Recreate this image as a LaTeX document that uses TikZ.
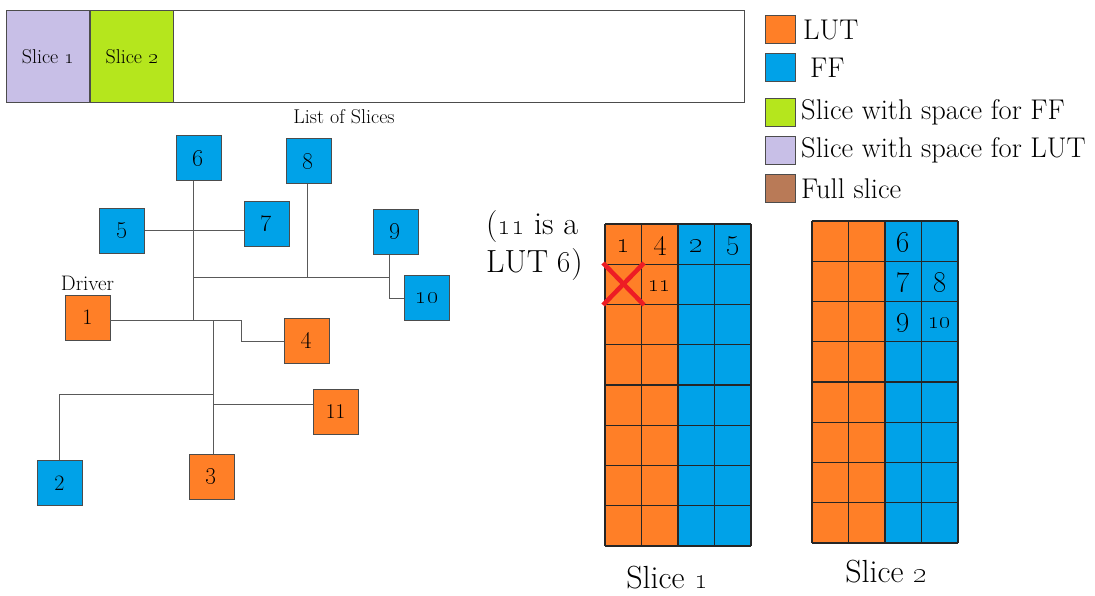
\documentclass[tikz,border=0pt]{standalone}
\usetikzlibrary{positioning}

\definecolor{lut}{RGB}{255,127,39}
\definecolor{ff}{RGB}{0,162,232}
\definecolor{fffree}{RGB}{181,230,29}
\definecolor{lutfree}{RGB}{200,191,231}
\definecolor{fullslice}{RGB}{185,122,87}
\definecolor{cross}{RGB}{237,28,36}

\newcommand{\osn}[1]{\oldstylenums{#1}}

\tikzset{
  blk/.style={draw=black!70, line width=0.8pt, minimum size=45pt, inner sep=0pt,
              font=\fontsize{27}{28}\selectfont},
  lutblk/.style={blk, fill=lut},
  ffblk/.style={blk, fill=ff},
  wire/.style={draw=black!65, line width=1pt},
  key/.style={draw=black!70, line width=1pt, minimum width=30pt, minimum height=28pt, inner sep=0pt},
  keytext/.style={anchor=west, inner sep=0pt, font=\fontsize{28.5}{30}\selectfont},
  gridline/.style={draw=black!85, line width=1.2pt},
  bel/.style={inner sep=0pt, font=\fontsize{28}{30}\selectfont},
}

\begin{document}
\begin{tikzpicture}[x=1pt, y=-1pt]
\useasboundingbox (0,0) rectangle (1095,596);

% list of slices
\node[draw=black!70, line width=0.8pt, fill=lutfree, minimum width=83pt, minimum height=92pt,
      anchor=north west, inner sep=0pt, font=\fontsize{20}{22}\selectfont] (s1) at (6,10) {Slice \osn{1}};
\node[draw=black!70, line width=0.8pt, fill=fffree, minimum width=83pt, minimum height=92pt,
      right=0pt of s1, inner sep=0pt, font=\fontsize{20}{22}\selectfont] (s2) {Slice \osn{2}};
\draw[draw=black!70, line width=0.8pt] (s2.north east) rectangle (744,102);
\node[font=\fontsize{20}{22}\selectfont] (lst) at (344,117) {List of Slices};

% legend
\node[key, fill=lut, anchor=north west] (k1) at (765,15) {};
\node[key, fill=ff, below=9pt of k1] (k2) {};
\node[key, fill=fffree, below=16pt of k2] (k3) {};
\node[key, fill=lutfree, below=9pt of k3] (k4) {};
\node[key, fill=fullslice, below=9pt of k4] (k5) {};
\node[keytext, right=7pt of k1] (t1) {LUT};
\node[keytext, right=14pt of k2] (t2) {FF};
\node[keytext, right=5pt of k3] (t3) {Slice with space for FF};
\node[keytext, right=5pt of k4] (t4) {Slice with space for LUT};
\node[keytext, right=5pt of k5] (t5) {Full slice};

% net
\node[lutblk, font=\fontsize{22}{24}\selectfont] (n1) at (87.5,317.5) {1};
\node[ffblk, font=\fontsize{22}{24}\selectfont] (n2) at (59.5,483) {2};
\node[lutblk] (n3) at (211.5,477) {\osn{3}};
\node[lutblk] (n4) at (306.5,341) {\osn{4}};
\node[ffblk] (n5) at (122,231) {\osn{5}};
\node[ffblk] (n6) at (198.5,158) {\osn{6}};
\node[ffblk] (n7) at (266.5,224) {\osn{7}};
\node[ffblk] (n8) at (308.5,161) {\osn{8}};
\node[ffblk] (n9) at (395.5,232) {\osn{9}};
\node[ffblk, font=\fontsize{24}{26}\selectfont] (n10) at (427,298) {\osn{10}};
\node[lutblk, font=\fontsize{21}{22}\selectfont] (n11) at (335.5,411.5) {11};
\node[above=0pt of n1, font=\fontsize{21}{22}\selectfont] (drv) {Driver};

\coordinate (j6) at (193,277);
\coordinate (j8) at (307,277);
\coordinate (j9) at (389,277);
\coordinate (j1) at (193,320);
\coordinate (j3) at (213,320);
\coordinate (j4) at (241,320);
\coordinate (j2) at (213,394);
\coordinate (j11) at (213,404);

\draw[wire] (n6.south -| j1) -- (j1);
\draw[wire] (n5.east) -- (n5.east -| n7.west);
\draw[wire] (j6) -- (j9) -- (j9 |- n10) -- (n10.west);
\draw[wire] (n9.south -| j9) -- (j9);
\draw[wire] (n8.south -| j8) -- (j8);
\draw[wire] (n1.east |- j1) -- (j4) -- (j4 |- n4) -- (n4.west);
\draw[wire] (j3) -- (j3 |- n3.north);
\draw[wire] (j2) -- (j2 -| n2) -- (n2.north);
\draw[wire] (j11) -- (j11 -| n11.west);

% slice 1
\begin{scope}[shift={(605,224)}]
  \fill[lut] (0,0) rectangle (73,322);
  \fill[ff] (73,0) rectangle (146,322);
  \foreach \c in {0,...,4} \draw[gridline] (\c*36.5,0) -- (\c*36.5,322);
  \foreach \r in {0,...,8} \draw[gridline] (0,\r*40.25) -- (146,\r*40.25);
  \foreach \c/\v in {0/1,1/4,2/2,3/5}
    \node[bel] (a\v) at (\c*36.5+18.25,22) {\osn{\v}};
  \node[bel, font=\fontsize{24}{26}\selectfont] (a11) at (54.75,62) {\osn{11}};
  \draw[cross, line width=4.5pt] (-2,39) -- (39,81);
  \draw[cross, line width=4.5pt] (-2,81) -- (39,39);
\end{scope}
\node[font=\fontsize{32}{34}\selectfont] (l1) at (667,578) {Slice \osn{1}};
\node[anchor=north west, align=left, inner sep=0pt, font=\fontsize{32}{38}\selectfont] (note) at (486,210)
  {(\osn{11} is a\\LUT \osn{6})};

% slice 2
\begin{scope}[shift={(812,221)}]
  \fill[lut] (0,0) rectangle (73,322);
  \fill[ff] (73,0) rectangle (146,322);
  \foreach \c in {0,...,4} \draw[gridline] (\c*36.5,0) -- (\c*36.5,322);
  \foreach \r in {0,...,8} \draw[gridline] (0,\r*40.25) -- (146,\r*40.25);
  \foreach \c/\r/\v in {2/0/6,2/1/7,3/1/8,2/2/9}
    \node[bel] (b\v) at (\c*36.5+18.25,\r*40.25+22) {\osn{\v}};
  \node[bel, font=\fontsize{25}{26}\selectfont] (b10) at (3*36.5+18.25,2*40.25+22) {\osn{10}};
\end{scope}
\node[font=\fontsize{32}{34}\selectfont] (l2) at (886,572) {Slice \osn{2}};
\end{tikzpicture}
\end{document}
